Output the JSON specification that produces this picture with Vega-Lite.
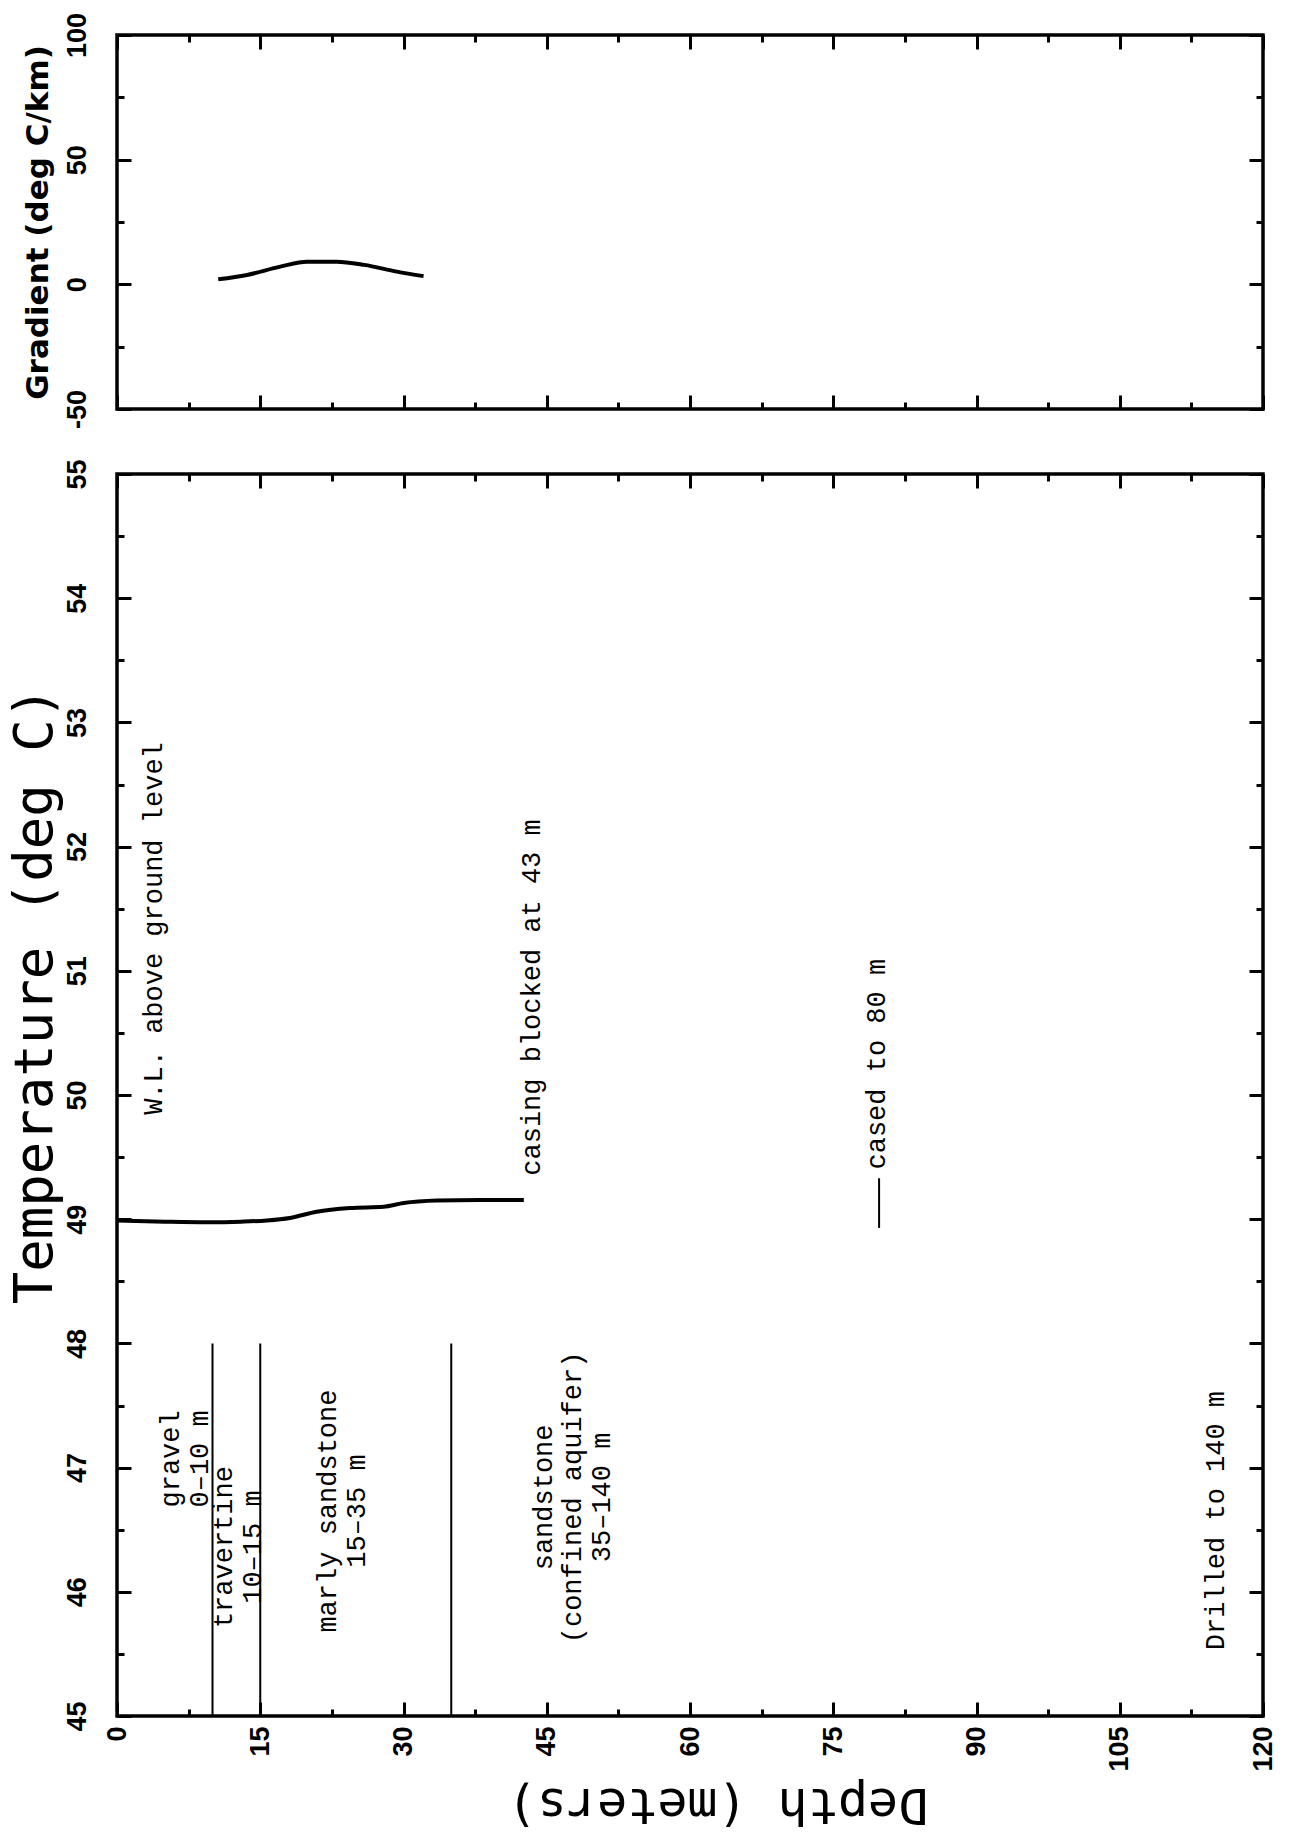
{
  "$schema": "https://vega.github.io/schema/vega-lite/v6.json",
  "background": "white",
  "padding": {"left": 6, "top": 10, "right": 5, "bottom": 10},
  "bounds": "flush",
  "spacing": 65,
  "datasets": {
    "gradient": [
      {"depth": 10.6, "gradient": 2.0},
      {"depth": 13.6, "gradient": 3.75},
      {"depth": 17.1, "gradient": 7.1},
      {"depth": 19.9, "gradient": 9.1},
      {"depth": 23.0, "gradient": 9.1},
      {"depth": 25.9, "gradient": 7.8},
      {"depth": 29.3, "gradient": 5.1},
      {"depth": 32.1, "gradient": 3.3}
    ],
    "temperature": [
      {"depth": 0, "temp": 48.99},
      {"depth": 5, "temp": 48.98},
      {"depth": 9.4, "temp": 48.975},
      {"depth": 13, "temp": 48.98},
      {"depth": 15.7, "temp": 48.99},
      {"depth": 18.1, "temp": 49.01},
      {"depth": 20.9, "temp": 49.06},
      {"depth": 24.4, "temp": 49.09},
      {"depth": 27.9, "temp": 49.10},
      {"depth": 30.0, "temp": 49.13},
      {"depth": 33.5, "temp": 49.15},
      {"depth": 38.0, "temp": 49.155},
      {"depth": 42.6, "temp": 49.155}
    ],
    "layers": [{"depth": 10}, {"depth": 15}, {"depth": 35}],
    "casing": [{"depth": 79.8, "from": 48.93, "to": 49.33}],
    "notes": [
      {"depth": 3.9, "temp": 49.84, "note": "W.L. above ground level"},
      {"depth": 43.5, "temp": 49.35, "note": "casing blocked at 43 m"},
      {"depth": 79.6, "temp": 49.40, "note": "cased to 80 m"},
      {"depth": 115.1, "temp": 45.53, "note": "Drilled to 140 m"}
    ],
    "units": [
      {"depth": 5.7, "temp": 47.07, "lines": ["gravel", "0–10 m"]},
      {"depth": 11.2, "temp": 46.36, "lines": ["travertine", "10–15 m"]},
      {"depth": 22.1, "temp": 46.65, "lines": ["marly sandstone", "15–35 m"]},
      {"depth": 44.7, "temp": 46.76, "lines": ["sandstone", "(confined aquifer)", "35–140 m"]}
    ]
  },
  "vconcat": [
    {
      "width": 1146,
      "height": 374,
      "data": {"name": "gradient"},
      "resolve": {"axis": {"x": "independent", "y": "independent"}},
      "layer": [
        {
          "mark": {"type": "line", "color": "black", "strokeWidth": 4, "interpolate": "monotone"},
          "encoding": {
            "x": {"field": "depth", "type": "quantitative", "scale": {"domain": [0, 120], "nice": false, "zero": false},
                  "axis": {"orient": "bottom", "values": [0, 15, 30, 45, 60, 75, 90, 105, 120], "tickSize": -14, "labels": false, "title": null}},
            "y": {"field": "gradient", "type": "quantitative", "scale": {"domain": [-50, 100], "nice": false, "zero": false},
                  "axis": {"orient": "left", "values": [-50, 0, 50, 100], "tickSize": -14, "labelAngle": 270, "labelAlign": "center", "labelBaseline": "alphabetic", "labelPadding": 46, "labelExpr": "toString(datum.value)",
                           "title": "Gradient (deg C/km)", "titleFont": "DejaVu Sans", "titleFontWeight": "bold", "titleFontSize": 31, "titleAngle": 270, "titleX": -70, "titleY": 187, "titleAlign": "center", "titleBaseline": "alphabetic"}}
          }
        },
        {
          "mark": {"type": "line", "opacity": 0},
          "encoding": {
            "x": {"field": "depth", "type": "quantitative", "scale": {"domain": [0, 120], "nice": false, "zero": false},
                  "axis": {"orient": "top", "values": [0, 15, 30, 45, 60, 75, 90, 105, 120], "tickSize": -14, "labels": false, "title": null}},
            "y": {"field": "gradient", "type": "quantitative", "scale": {"domain": [-50, 100], "nice": false, "zero": false},
                  "axis": {"orient": "right", "values": [-50, 0, 50, 100], "tickSize": -14, "labels": false, "title": null}}
          }
        },
        {
          "mark": {"type": "line", "opacity": 0},
          "encoding": {
            "x": {"field": "depth", "type": "quantitative", "scale": {"domain": [0, 120], "nice": false, "zero": false},
                  "axis": {"orient": "bottom", "values": [7.5, 22.5, 37.5, 52.5, 67.5, 82.5, 97.5, 112.5], "tickSize": -7, "labels": false, "title": null}},
            "y": {"field": "gradient", "type": "quantitative", "scale": {"domain": [-50, 100], "nice": false, "zero": false},
                  "axis": {"orient": "left", "values": [-25, 25, 75], "tickSize": -7, "labels": false, "title": null}}
          }
        },
        {
          "mark": {"type": "line", "opacity": 0},
          "encoding": {
            "x": {"field": "depth", "type": "quantitative", "scale": {"domain": [0, 120], "nice": false, "zero": false},
                  "axis": {"orient": "top", "values": [7.5, 22.5, 37.5, 52.5, 67.5, 82.5, 97.5, 112.5], "tickSize": -7, "labels": false, "title": null}},
            "y": {"field": "gradient", "type": "quantitative", "scale": {"domain": [-50, 100], "nice": false, "zero": false},
                  "axis": {"orient": "right", "values": [-25, 25, 75], "tickSize": -7, "labels": false, "title": null}}
          }
        }
      ]
    },
    {
      "width": 1146,
      "height": 1242,
      "resolve": {"axis": {"x": "independent", "y": "independent"}},
      "layer": [
        {
          "data": {"name": "layers"},
          "mark": {"type": "rule", "color": "black", "strokeWidth": 2},
          "encoding": {
            "x": {"field": "depth", "type": "quantitative", "scale": {"domain": [0, 120], "nice": false, "zero": false}, "axis": null},
            "y": {"datum": 45, "type": "quantitative", "scale": {"domain": [45, 55], "nice": false, "zero": false}, "axis": null},
            "y2": {"datum": 48}
          }
        },
        {
          "data": {"name": "casing"},
          "mark": {"type": "rule", "color": "black", "strokeWidth": 2},
          "encoding": {
            "x": {"field": "depth", "type": "quantitative", "scale": {"domain": [0, 120], "nice": false, "zero": false}, "axis": null},
            "y": {"field": "from", "type": "quantitative", "scale": {"domain": [45, 55], "nice": false, "zero": false}, "axis": null},
            "y2": {"field": "to"}
          }
        },
        {
          "data": {"name": "temperature"},
          "mark": {"type": "line", "color": "black", "strokeWidth": 4, "interpolate": "monotone"},
          "encoding": {
            "x": {"field": "depth", "type": "quantitative", "scale": {"domain": [0, 120], "nice": false, "zero": false},
                  "axis": {"orient": "bottom", "values": [0, 15, 30, 45, 60, 75, 90, 105, 120], "tickSize": -14, "labelAngle": 270, "labelAlign": "right", "labelBaseline": "middle", "labelPadding": 24, "labelExpr": "toString(datum.value)",
                           "title": "Depth (meters)", "titleFont": "DejaVu Sans Mono", "titleFontWeight": "normal", "titleFontSize": 50, "titleAngle": 180, "titleX": 600, "titleY": 72, "titleAlign": "center", "titleBaseline": "alphabetic"}},
            "y": {"field": "temp", "type": "quantitative", "scale": {"domain": [45, 55], "nice": false, "zero": false},
                  "axis": {"orient": "left", "values": [45, 46, 47, 48, 49, 50, 51, 52, 53, 54, 55], "tickSize": -14, "labelAngle": 270, "labelAlign": "center", "labelBaseline": "alphabetic", "labelPadding": 46, "labelExpr": "toString(datum.value)",
                           "title": "Temperature (deg C)", "titleFont": "DejaVu Sans Mono", "titleFontWeight": "normal", "titleFontSize": 54, "titleAngle": 270, "titleX": -66, "titleY": 521, "titleAlign": "center", "titleBaseline": "alphabetic"}}
          }
        },
        {
          "data": {"name": "temperature"},
          "mark": {"type": "line", "opacity": 0},
          "encoding": {
            "x": {"field": "depth", "type": "quantitative", "scale": {"domain": [0, 120], "nice": false, "zero": false},
                  "axis": {"orient": "top", "values": [0, 15, 30, 45, 60, 75, 90, 105, 120], "tickSize": -14, "labels": false, "title": null}},
            "y": {"field": "temp", "type": "quantitative", "scale": {"domain": [45, 55], "nice": false, "zero": false},
                  "axis": {"orient": "right", "values": [45, 46, 47, 48, 49, 50, 51, 52, 53, 54, 55], "tickSize": -14, "labels": false, "title": null}}
          }
        },
        {
          "data": {"name": "temperature"},
          "mark": {"type": "line", "opacity": 0},
          "encoding": {
            "x": {"field": "depth", "type": "quantitative", "scale": {"domain": [0, 120], "nice": false, "zero": false},
                  "axis": {"orient": "bottom", "values": [7.5, 22.5, 37.5, 52.5, 67.5, 82.5, 97.5, 112.5], "tickSize": -7, "labels": false, "title": null}},
            "y": {"field": "temp", "type": "quantitative", "scale": {"domain": [45, 55], "nice": false, "zero": false},
                  "axis": {"orient": "left", "values": [45.5, 46.5, 47.5, 48.5, 49.5, 50.5, 51.5, 52.5, 53.5, 54.5], "tickSize": -7, "labels": false, "title": null}}
          }
        },
        {
          "data": {"name": "temperature"},
          "mark": {"type": "line", "opacity": 0},
          "encoding": {
            "x": {"field": "depth", "type": "quantitative", "scale": {"domain": [0, 120], "nice": false, "zero": false},
                  "axis": {"orient": "top", "values": [7.5, 22.5, 37.5, 52.5, 67.5, 82.5, 97.5, 112.5], "tickSize": -7, "labels": false, "title": null}},
            "y": {"field": "temp", "type": "quantitative", "scale": {"domain": [45, 55], "nice": false, "zero": false},
                  "axis": {"orient": "right", "values": [45.5, 46.5, 47.5, 48.5, 49.5, 50.5, 51.5, 52.5, 53.5, 54.5], "tickSize": -7, "labels": false, "title": null}}
          }
        },
        {
          "data": {"name": "notes"},
          "mark": {"type": "text", "angle": 270, "align": "left", "baseline": "middle", "font": "Liberation Mono", "fontSize": 27, "color": "black"},
          "encoding": {
            "x": {"field": "depth", "type": "quantitative", "scale": {"domain": [0, 120], "nice": false, "zero": false}, "axis": null},
            "y": {"field": "temp", "type": "quantitative", "scale": {"domain": [45, 55], "nice": false, "zero": false}, "axis": null},
            "text": {"field": "note"}
          }
        },
        {
          "data": {"name": "units"},
          "mark": {"type": "text", "angle": 270, "align": "center", "baseline": "middle", "font": "Liberation Mono", "fontSize": 27, "lineHeight": 29, "color": "black"},
          "encoding": {
            "x": {"field": "depth", "type": "quantitative", "scale": {"domain": [0, 120], "nice": false, "zero": false}, "axis": null},
            "y": {"field": "temp", "type": "quantitative", "scale": {"domain": [45, 55], "nice": false, "zero": false}, "axis": null},
            "text": {"field": "lines"}
          }
        }
      ]
    }
  ],
  "config": {
    "view": {"stroke": "black", "strokeWidth": 3.5},
    "axis": {
      "domain": false,
      "grid": false,
      "ticks": true,
      "tickColor": "black",
      "tickWidth": 3,
      "labelFont": "Liberation Sans",
      "labelFontWeight": "bold",
      "labelFontSize": 27,
      "labelColor": "black",
      "labelFlush": false,
      "labelOverlap": false,
      "labelBound": false,
      "titleColor": "black"
    }
  }
}
